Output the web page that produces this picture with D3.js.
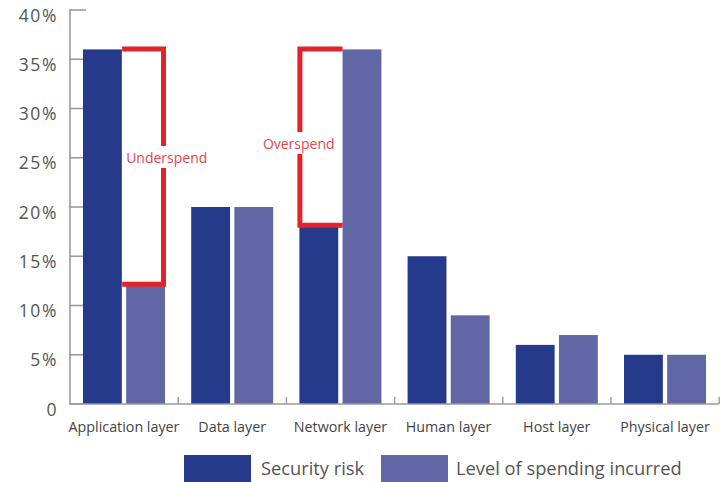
<!DOCTYPE html>
<html>
<head>
<meta charset="utf-8">
<script src="https://cdn.jsdelivr.net/npm/d3@7/dist/d3.min.js"></script>
<style>
  html, body { margin: 0; padding: 0; background: #fff; }
  svg { display: block; font-family: "Open Sans", sans-serif; }
</style>
</head>
<body>
<svg id="chart" width="720" height="482"></svg>
<script>
// Security risk vs. spending, per layer (percent)
const categories = ["Application layer", "Data layer", "Network layer", "Human layer", "Host layer", "Physical layer"];
const seriesNames = ["Security risk", "Level of spending incurred"];
const securityRisk = [36, 20, 18, 15, 6, 5];
const spendingIncurred = [12, 20, 36, 9, 7, 5];
const yTicks = [0, 5, 10, 15, 20, 25, 30, 35, 40];
// Annotated gaps between risk and spending
const annotations = [
  { category: "Application layer", label: "Underspend", from: 36, to: 12, side: "right", labelY: 158 },
  { category: "Network layer", label: "Overspend", from: 36, to: 18, side: "left", labelY: 144 }
];

const colors = ["#263a8b", "#6167a4"];
const red = "#e3222b";

const svg = d3.select("#chart");
const mLeft = 70, mRight = 719, mBottom = 404, mTop = 10;

const x0 = d3.scaleBand().domain(categories).range([mLeft, mRight])
  .paddingInner(0.242).paddingOuter(0.12);
const x1 = d3.scaleBand().domain(seriesNames).range([0, x0.bandwidth()]).paddingInner(0.1);
const y = d3.scaleLinear().domain([0, 40]).range([mBottom, mTop]);

const rows = categories.map((c, i) => ({ category: c, values: [securityRisk[i], spendingIncurred[i]] }));

// bars
const groups = svg.append("g").selectAll("g").data(rows).join("g")
  .attr("transform", d => `translate(${x0(d.category)},0)`);
groups.selectAll("rect").data(d => d.values.map((v, j) => ({ v, j })))
  .join("rect")
  .attr("x", d => x1(seriesNames[d.j]))
  .attr("width", x1.bandwidth())
  .attr("y", d => y(d.v))
  .attr("height", d => y(0) - y(d.v))
  .attr("fill", d => colors[d.j]);

// y axis
const axisColor = "#9a9a9a";
const yAxis = svg.append("g");
yAxis.append("line").attr("x1", mLeft).attr("x2", mLeft).attr("y1", y(40)).attr("y2", y(0))
  .attr("stroke", axisColor).attr("stroke-width", 1.6);
yAxis.selectAll("line.tick").data(yTicks).join("line").attr("class", "tick")
  .attr("x1", mLeft - 1).attr("x2", d => d === 40 ? mLeft + 16 : mLeft + 13)
  .attr("y1", d => y(d)).attr("y2", d => y(d))
  .attr("stroke", axisColor).attr("stroke-width", 1.6);
yAxis.selectAll("text").data(yTicks).join("text")
  .attr("x", 58).attr("y", d => y(d) + 11.5)
  .attr("text-anchor", "end")
  .attr("font-size", 17.5).attr("letter-spacing", 1.6)
  .attr("fill", "#555")
  .text(d => d === 0 ? "0" : d + "%");

// x axis with small ticks between groups
const xAxis = svg.append("g");
xAxis.append("line").attr("x1", mLeft).attr("x2", mRight).attr("y1", y(0)).attr("y2", y(0))
  .attr("stroke", axisColor).attr("stroke-width", 1.6);
const tickXs = d3.range(1, categories.length + 1).map(i => mLeft + i * x0.step());
xAxis.selectAll("line.tick").data(tickXs).join("line").attr("class", "tick")
  .attr("x1", d => d).attr("x2", d => d).attr("y1", y(0)).attr("y2", y(0) - 7)
  .attr("stroke", axisColor).attr("stroke-width", 1.4);
xAxis.selectAll("text").data(categories).join("text")
  .attr("x", d => x0(d) + x0.bandwidth() / 2).attr("y", 432)
  .attr("text-anchor", "middle").attr("font-size", 14.3)
  .attr("fill", "#444")
  .text(d => d);

// annotation brackets
const ann = svg.append("g");
annotations.forEach(a => {
  const gx = x0(a.category);
  const sw = 5;
  const yTop = y(a.from) - 0.5;
  const yBot = y(a.to) - 1.5;
  const gapTop = a.labelY - 12, gapBot = a.labelY + 10;
  let d, textX;
  if (a.side === "right") {
    const xa = gx + x1(seriesNames[1]) - 4;
    const xv = gx + x1(seriesNames[1]) + x1.bandwidth() + 1 - sw / 2;
    d = `M${xa},${yTop}H${xv}V${gapTop}M${xv},${gapBot}V${yBot}H${xa}`;
    textX = gx + x1(seriesNames[1]);
  } else {
    const xb = gx + x1(seriesNames[1]);
    const xv = gx - 2 + sw / 2;
    d = `M${xb},${yTop}H${xv}V${gapTop}M${xv},${gapBot}V${yBot}H${xb}`;
    textX = xv - 37;
  }
  ann.append("path").attr("d", d).attr("fill", "none")
    .attr("stroke", red).attr("stroke-width", sw);
  ann.append("text")
    .attr("x", textX).attr("y", a.labelY + 5)
    .attr("font-size", 14).attr("fill", "#e6454d")
    .text(a.label);
});

// legend
const legend = svg.append("g");
const legendItems = [
  { name: seriesNames[0], box: 184, text: 261 },
  { name: seriesNames[1], box: 381, text: 456 }
];
legend.selectAll("rect").data(legendItems).join("rect")
  .attr("x", d => d.box).attr("y", 455).attr("width", 67).attr("height", 27)
  .attr("fill", (d, i) => colors[i]);
legend.selectAll("text").data(legendItems).join("text")
  .attr("x", d => d.text).attr("y", 475)
  .attr("font-size", 18.3).attr("fill", "#555")
  .text(d => d.name);
</script>
</body>
</html>
